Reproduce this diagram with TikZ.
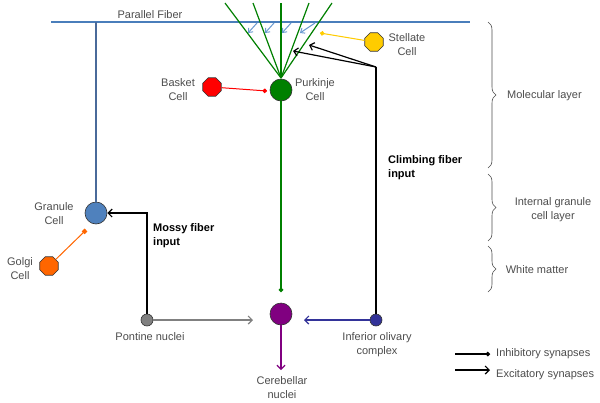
\documentclass[tikz,border=0pt]{standalone}
\usepackage{fontspec}
\setmainfont{Liberation Sans}
\usetikzlibrary{arrows.meta,shapes.geometric,decorations.pathreplacing}
\definecolor{txtgray}{HTML}{4D4D4D}
\definecolor{pfblue}{HTML}{4A7EBB}
\definecolor{grblue}{HTML}{4F81BD}
\definecolor{grline}{HTML}{4A6A9A}
\definecolor{arrblue}{HTML}{6A9AD0}
\definecolor{pkgreen}{HTML}{008000}
\definecolor{ndpurple}{HTML}{800080}
\definecolor{iodark}{HTML}{333399}
\definecolor{stelly}{HTML}{FFCC00}
\definecolor{golgior}{HTML}{FF6600}
\definecolor{outl}{HTML}{333333}
\begin{document}
\begin{tikzpicture}[x=1pt,y=-1pt,
  lbl/.style={text=txtgray,font=\fontsize{11}{14}\selectfont,align=center,inner sep=0pt},
  blbl/.style={text=black,font=\fontsize{11}{14}\selectfont\bfseries,align=left,inner sep=0pt,anchor=west},
  cell/.style={circle,draw=outl,line width=0.6pt,minimum size=22pt,inner sep=0pt},
  smallcell/.style={circle,draw=outl,line width=0.6pt,minimum size=12pt,inner sep=0pt},
  oct/.style={regular polygon,regular polygon sides=8,draw=outl,line width=0.6pt,minimum size=20pt,inner sep=0pt},
  exc/.style={-{Straight Barb[length=4pt,width=8pt]}},
  sexc/.style={-{Straight Barb[length=3.5pt,width=6pt]}},
  inh/.style={-{Circle[length=4.5pt,width=4.5pt]}},
  sqinh/.style={-{Square[length=4pt,width=4pt]}},
  layerbrace/.style={draw=txtgray,line width=0.6pt,decorate,decoration={brace,amplitude=8pt}}
]
\useasboundingbox[fill=white] (0,0) rectangle (600,402);

% coordinates
\coordinate (pfL) at (51,22);
\coordinate (pfR) at (470,22);
\coordinate (pfG) at (96,22);

% cells
\node[cell,fill=grblue] (gr) at (96,213) {};
\node[cell,fill=pkgreen] (pk) at (281,90) {};
\node[cell,fill=ndpurple] (cn) at (281,314) {};
\node[smallcell,fill=gray] (pn) at (147,320) {};
\node[smallcell,fill=iodark] (io) at (376,320) {};
\node[oct,fill=red] (bk) at (212,87) {};
\node[oct,fill=stelly] (st) at (374,42) {};
\node[oct,fill=golgior] (go) at (49,266) {};

% parallel fiber
\draw[pfblue,line width=1.2pt] (pfL) -- (pfR);
\draw[grline,line width=2pt] (gr.north) -- (pfG);

% dendrites
\coordinate (pkt) at (281,78);
\coordinate (d1) at (225,3);
\coordinate (d2) at (253,3);
\coordinate (d3) at (281,3);
\coordinate (d4) at (309,3);
\coordinate (d5) at (332,3);
\foreach \d in {d1,d2,d3,d4,d5}{\draw[pkgreen,line width=1.2pt] (pkt) -- (\d);}

% parallel fiber synapses
\coordinate (a1s) at (257,23); \coordinate (a1e) at (248,33);
\coordinate (a2s) at (274,23); \coordinate (a2e) at (265,33);
\coordinate (a3s) at (291,23); \coordinate (a3e) at (282,33);
\coordinate (a4s) at (315,23); \coordinate (a4e) at (300,33);
\foreach \i in {1,2,3,4}{\draw[arrblue,line width=1pt,sexc] (a\i s) -- (a\i e);}

% inhibitory connections
\coordinate (stE) at (320,33);
\draw[stelly,line width=1pt,inh] (st) -- (stE);
\coordinate (bkE) at (267,91);
\draw[red,line width=1pt,inh] (bk) -- (bkE);
\coordinate (goE) at (86,230);
\draw[golgior,line width=1pt,sqinh] (go) -- (goE);
\coordinate (pkE) at (281,292);
\draw[pkgreen,line width=1.2pt,inh] (pk.south) -- (pkE);

% climbing fiber
\coordinate (cf) at (376,67);
\coordinate (cf1) at (293,51);
\coordinate (cf2) at (309,45);
\draw[black,line width=1.2pt] (io.north) -- (cf);
\draw[black,line width=1.2pt,exc] (cf) -- (cf1);
\draw[black,line width=1.2pt,exc] (cf) -- (cf2);

% mossy fiber
\coordinate (mf) at (147,213);
\draw[black,line width=1.2pt,exc] (pn.north) -- (mf) -- (gr.east);

% nuclei projections
\coordinate (pnE) at (253,320);
\draw[gray,line width=1.2pt,exc] (pn.east) -- (pnE);
\coordinate (ioE) at (304,320);
\draw[iodark,line width=1.2pt,exc] (io.west) -- (ioE);
\coordinate (cnE) at (281,370);
\draw[ndpurple,line width=1.2pt,exc] (cn.south) -- (cnE);

% labels
\node[lbl] (tpf) at (150,15) {Parallel Fiber};
\node[lbl] (tgr) at (54,214) {Granule\\Cell};
\node[lbl] (tgo) at (20,269) {Golgi\\Cell};
\node[lbl] (tbk) at (178,90) {Basket\\Cell};
\node[lbl] (tpk) at (315,90) {Purkinje\\Cell};
\node[lbl] (tst) at (407,45) {Stellate\\Cell};
\node[lbl] (tpn) at (150,337) {Pontine nuclei};
\node[lbl] (tio) at (377,345) {Inferior olivary\\complex};
\node[lbl] (tcn) at (282,388) {Cerebellar\\nuclei};
\node[blbl] (tmf) at (153,236) {Mossy fiber\\input};
\node[blbl] (tcf) at (388,168) {Climbing fiber\\input};

% layer braces
\coordinate (b1t) at (488,22); \coordinate (b1b) at (488,168);
\coordinate (b2t) at (488,174); \coordinate (b2b) at (488,241);
\coordinate (b3t) at (488,246); \coordinate (b3b) at (488,292);
\draw[layerbrace] (b1t) -- (b1b);
\draw[layerbrace] (b2t) -- (b2b);
\draw[layerbrace] (b3t) -- (b3b);
\node[lbl,anchor=west] (tml) at (507,96) {Molecular layer};
\node[lbl] (tig) at (553,210) {Internal granule\\cell layer};
\node[lbl] (twm) at (537,270) {White matter};

% legend
\coordinate (l1s) at (455,354); \coordinate (l1e) at (490,354);
\coordinate (l2s) at (455,370); \coordinate (l2e) at (490,370);
\draw[black,line width=1.2pt,inh] (l1s) -- (l1e);
\draw[black,line width=1.2pt,exc] (l2s) -- (l2e);
\node[lbl,anchor=west] (tinh) at (496,354) {Inhibitory synapses};
\node[lbl,anchor=west] (texc) at (496,375) {Excitatory synapses};
\end{tikzpicture}
\end{document}
